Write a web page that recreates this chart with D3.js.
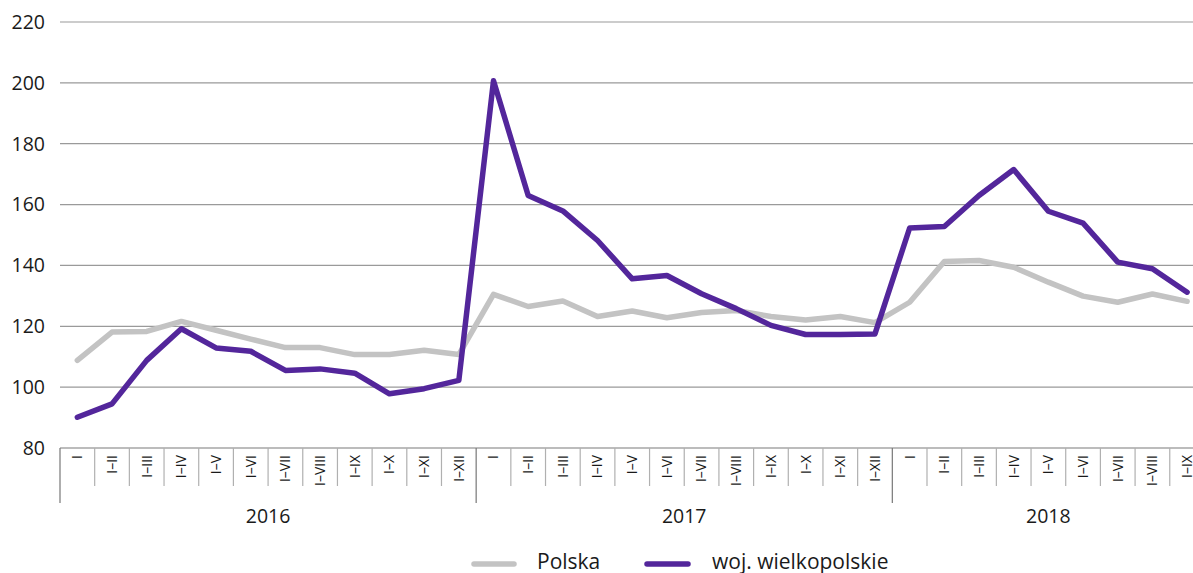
<!DOCTYPE html>
<html>
<head>
<meta charset="utf-8">
<script src="https://cdn.jsdelivr.net/npm/d3@7"></script>
<style>
    html, body { margin: 0; padding: 0; background: #fff; overflow: hidden; }
    svg { display: block; font-family: "Open Sans", "Noto Sans", sans-serif; }
</style>
</head>
<body>
<div id="chart"></div>
<script>
/* ===== DATA ===== */
const years = ["2016", "2017", "2018"];
const monthsPerYear = [12, 12, 9];
const periodLabels = ["I", "I–II", "I–III", "I–IV", "I–V", "I–VI", "I–VII", "I–VIII", "I–IX", "I–X", "I–XI", "I–XII"];

const polska = [
    108.8, 118.1, 118.3, 121.6, 118.7, 115.8, 113.0, 113.0, 110.7, 110.7, 112.1, 110.7,
    130.5, 126.5, 128.3, 123.2, 125.0, 122.8, 124.5, 125.2, 123.2, 122.1, 123.2, 121.2,
    127.9, 141.3, 141.6, 139.4, 134.5, 129.9, 127.9, 130.6, 128.2
];

const wielkopolskie = [
    90.1, 94.5, 108.8, 119.2, 112.9, 111.8, 105.5, 106.0, 104.6, 97.8, 99.5, 102.2,
    200.7, 163.0, 157.9, 148.2, 135.6, 136.7, 130.7, 125.8, 120.3, 117.3, 117.3, 117.5,
    152.3, 152.8, 163.0, 171.5, 157.8, 153.9, 141.1, 138.9, 131.2
];

const yTicks = [80, 100, 120, 140, 160, 180, 200, 220];

const seriesNames = ["Polska", "woj. wielkopolskie"];
const seriesColors = ["#c3c3c3", "#53269b"];

/* ===== CATEGORIES ===== */
const categories = [];
years.forEach((yr, yi) => {
    for (let m = 0; m < monthsPerYear[yi]; m++) {
        categories.push({ key: yr + "-" + m, year: yr, label: periodLabels[m], month: m });
    }
});

/* ===== DIMENSIONS ===== */
const width = 1193;
const height = 573;
const plotLeft = 60;
const plotTop = 22;
const plotBottom = 448;
const bandWidth = 34.68;

const svg = d3.select("#chart")
    .append("svg")
    .attr("width", width)
    .attr("height", height);

const x = d3.scaleBand()
    .domain(categories.map(d => d.key))
    .range([plotLeft, plotLeft + bandWidth * categories.length])
    .padding(0);

const y = d3.scaleLinear()
    .domain([80, 220])
    .range([plotBottom, plotTop]);

const cx = (i) => x(categories[i].key) + x.bandwidth() / 2;

/* ===== GRID + Y AXIS ===== */
const grid = svg.append("g");
grid.selectAll("line")
    .data(yTicks.filter(t => t > 80))
    .enter()
    .append("line")
    .attr("x1", plotLeft)
    .attr("x2", width)
    .attr("y1", d => y(d))
    .attr("y2", d => y(d))
    .attr("stroke", "#9a9a9a")
    .attr("stroke-width", 1.2);

svg.append("g")
    .selectAll("text")
    .data(yTicks)
    .enter()
    .append("text")
    .attr("x", 45)
    .attr("y", d => y(d))
    .attr("dy", "0.35em")
    .attr("text-anchor", "end")
    .attr("font-size", 19.5)
    .attr("fill", "#1a1a1a")
    .text(d => d);

/* ===== X AXIS ===== */
const xAxis = svg.append("g");

xAxis.append("line")
    .attr("x1", plotLeft)
    .attr("x2", width)
    .attr("y1", plotBottom)
    .attr("y2", plotBottom)
    .attr("stroke", "#7a7a7a")
    .attr("stroke-width", 1.2);

// separators between months (short) and years (long)
xAxis.selectAll(".sep")
    .data(categories)
    .enter()
    .append("line")
    .attr("class", "sep")
    .attr("x1", d => x(d.key))
    .attr("x2", d => x(d.key))
    .attr("y1", plotBottom)
    .attr("y2", d => d.month === 0 ? 503 : 486)
    .attr("stroke", d => d.month === 0 ? "#777" : "#b0b0b0")
    .attr("stroke-width", 1.2);

xAxis.selectAll(".mlabel")
    .data(categories)
    .enter()
    .append("text")
    .attr("class", "mlabel")
    .attr("transform", d => `translate(${x(d.key) + x.bandwidth() / 2},455) rotate(-90)`)
    .attr("dy", "0.35em")
    .attr("text-anchor", "end")
    .attr("font-size", 14)
    .attr("fill", "#1a1a1a")
    .text(d => d.label);

let start = 0;
years.forEach((yr, yi) => {
    const first = categories[start];
    const last = categories[start + monthsPerYear[yi] - 1];
    const mid = (x(first.key) + x(last.key) + x.bandwidth()) / 2;
    xAxis.append("text")
        .attr("x", mid)
        .attr("y", 516)
        .attr("dy", "0.35em")
        .attr("text-anchor", "middle")
        .attr("font-size", 19.5)
        .attr("fill", "#1a1a1a")
        .text(yr);
    start += monthsPerYear[yi];
});

/* ===== LINES ===== */
const line = d3.line()
    .x((d, i) => cx(i))
    .y(d => y(d));

[polska, wielkopolskie].forEach((values, si) => {
    svg.append("path")
        .datum(values)
        .attr("fill", "none")
        .attr("stroke", seriesColors[si])
        .attr("stroke-width", 5.5)
        .attr("stroke-linejoin", "round")
        .attr("stroke-linecap", "round")
        .attr("d", line);
});

/* ===== LEGEND ===== */
const legendItems = [
    { x1: 474, x2: 514, tx: 537 },
    { x1: 647, x2: 688, tx: 712 }
];

const legend = svg.append("g");
legendItems.forEach((it, i) => {
    legend.append("line")
        .attr("x1", it.x1)
        .attr("x2", it.x2)
        .attr("y1", 564)
        .attr("y2", 564)
        .attr("stroke", seriesColors[i])
        .attr("stroke-width", 5.5)
        .attr("stroke-linecap", "round");
    legend.append("text")
        .attr("x", it.tx)
        .attr("y", 562)
        .attr("dy", "0.35em")
        .attr("font-size", 21)
        .attr("fill", "#1a1a1a")
        .text(seriesNames[i]);
});
</script>
</body>
</html>
